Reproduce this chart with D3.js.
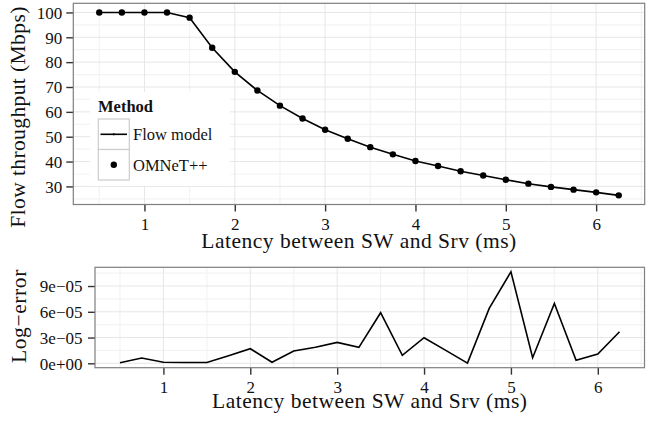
<!DOCTYPE html>
<html>
<head>
<meta charset="utf-8">
<script src="https://cdn.jsdelivr.net/npm/d3@7"></script>
<style>
  html, body { margin: 0; padding: 0; background: #fff; }
  svg { display: block; }
  svg text { font-family: "Liberation Serif", "DejaVu Serif", serif !important; fill: #111; }
</style>
</head>
<body>
<svg id="chart" width="654" height="421"></svg>
<script>
// ---- data ----
const latency = [0.5, 0.75, 1, 1.25, 1.5, 1.75, 2, 2.25, 2.5, 2.75, 3, 3.25,
                 3.5, 3.75, 4, 4.25, 4.5, 4.75, 5, 5.25, 5.5, 5.75, 6, 6.25];
const throughput = [100, 100, 100, 100, 97.9, 85.8, 76.1, 68.6, 62.5, 57.3, 52.8, 49.2,
                    45.8, 42.9, 40.2, 38.2, 36.1, 34.4, 32.7, 31.1, 29.8, 28.7, 27.6, 26.4];
const logError = [0.7e-6, 6.2e-6, 1.2e-6, 1.0e-6, 1.0e-6, 8.8e-6, 17e-6, 1.2e-6, 14.3e-6, 18.6e-6, 24.4e-6, 18.6e-6,
                  58.9e-6, 9.3e-6, 29.8e-6, 15e-6, 0.2e-6, 64e-6, 106.5e-6, 6.5e-6, 69.8e-6, 3.5e-6, 10.8e-6, 36.8e-6];
const xTicks = [1, 2, 3, 4, 5, 6];
const xMinorTicks = [0.5, 1.5, 2.5, 3.5, 4.5, 5.5, 6.5];
const topYTicks = [30, 40, 50, 60, 70, 80, 90, 100];
const topYMinorTicks = [25, 35, 45, 55, 65, 75, 85, 95];
const botYTicks = [0, 3e-5, 6e-5, 9e-5];
const botYTickLabels = ["0e+00", "3e\u221205", "6e\u221205", "9e\u221205"];
const botYMinorTicks = [1.5e-5, 4.5e-5, 7.5e-5, 10.5e-5];
const methods = ["Flow model", "OMNeT++"];
const legendTitle = "Method";
const xTitle = "Latency between SW and Srv (ms)";
const topYTitle = "Flow throughput (Mbps)";
const botYTitle = "Log\u2212error";

// ---- helpers ----
function expand(ext, f) { const d = (ext[1] - ext[0]) * f; return [ext[0] - d, ext[1] + d]; }

const svg = d3.select("#chart");
const FONT = '"Liberation Serif", "DejaVu Serif", serif';
const TICK_FONT = "17px", TITLE_FONT = "21.5px", LEG_FONT = "16.5px";

function panel(g, x, y, xMin, yMaj, yMin, yLabels, yLabelX, xLabelY) {
  const [x0, x1] = x.range();
  const [y1, y0] = y.range();
  g.append("rect").attr("x", x0).attr("y", y0).attr("width", x1 - x0).attr("height", y1 - y0)
    .attr("fill", "#fff");
  // minor grid
  g.selectAll(null).data(yMin).join("line")
    .attr("x1", x0).attr("x2", x1).attr("y1", d => y(d)).attr("y2", d => y(d))
    .attr("stroke", "#f3f3f3").attr("stroke-width", 1.2);
  g.selectAll(null).data(xMin).join("line")
    .attr("y1", y0).attr("y2", y1).attr("x1", d => x(d)).attr("x2", d => x(d))
    .attr("stroke", "#f3f3f3").attr("stroke-width", 1.2);
  // major grid
  g.selectAll(null).data(yMaj).join("line")
    .attr("x1", x0).attr("x2", x1).attr("y1", d => y(d)).attr("y2", d => y(d))
    .attr("stroke", "#e6e6e6").attr("stroke-width", 1);
  g.selectAll(null).data(xTicks).join("line")
    .attr("y1", y0).attr("y2", y1).attr("x1", d => x(d)).attr("x2", d => x(d))
    .attr("stroke", "#e6e6e6").attr("stroke-width", 1);

  // axes
  const ax = g.append("g").attr("transform", `translate(0,${y1})`)
    .call(d3.axisBottom(x).tickValues(xTicks).tickSize(7).tickFormat(d3.format("d")));
  ax.attr("font-family", FONT);
  ax.select(".domain").remove();
  ax.selectAll(".tick line").attr("stroke", "#333").attr("stroke-width", 1.4);
  ax.selectAll(".tick text").attr("y", xLabelY).attr("dy", null)
    .style("font-size", TICK_FONT).style("font-family", FONT).attr("fill", "#111");

  const ay = g.append("g").attr("transform", `translate(${x0},0)`)
    .call(d3.axisLeft(y).tickValues(yMaj).tickSize(7).tickFormat((d, i) => yLabels[i]));
  ay.attr("font-family", FONT);
  ay.select(".domain").remove();
  ay.selectAll(".tick line").attr("stroke", "#333").attr("stroke-width", 1.4);
  ay.selectAll(".tick text").attr("x", yLabelX).attr("dy", "0.34em")
    .style("font-size", TICK_FONT).style("font-family", FONT).attr("fill", "#111");
  return { x0, x1, y0, y1 };
}

// ---- top panel ----
const xTop = d3.scaleLinear().domain(expand(d3.extent(latency), 0.05)).range([73.3, 644.7]);
const yTop = d3.scaleLinear().domain(expand(d3.extent(throughput), 0.05)).range([204.5, 3.3]);
const gTop = svg.append("g");
const pTop = panel(gTop, xTop, yTop, xMinorTicks, topYTicks, topYMinorTicks,
                   topYTicks.map(String), -11, 25.2);

// legend background (covers grid)
const leg = svg.append("g");
leg.append("rect").attr("x", 90).attr("y", 92).attr("width", 140).attr("height", 94).attr("fill", "#fff");

gTop.append("path").datum(latency.map((d, i) => [d, throughput[i]]))
  .attr("fill", "none").attr("stroke", "#000").attr("stroke-width", 1.6)
  .attr("d", d3.line().x(d => xTop(d[0])).y(d => yTop(d[1])));
gTop.selectAll(null).data(latency.map((d, i) => [d, throughput[i]])).join("circle")
  .attr("cx", d => xTop(d[0])).attr("cy", d => yTop(d[1])).attr("r", 3.2).attr("fill", "#000");
gTop.append("rect").attr("x", pTop.x0).attr("y", pTop.y0)
  .attr("width", pTop.x1 - pTop.x0).attr("height", pTop.y1 - pTop.y0)
  .attr("fill", "none").attr("stroke", "#7f7f7f").attr("stroke-width", 1.2);

// legend content
leg.raise();
leg.append("text").attr("x", 98).attr("y", 111.5).style("font-size", LEG_FONT)
  .style("font-family", FONT).style("font-weight", "bold").text(legendTitle);
methods.forEach((m, i) => {
  const ky = 119 + i * 30.5;
  leg.append("rect").attr("x", 98.3).attr("y", ky).attr("width", 31).attr("height", 30.5)
    .attr("fill", "#fff").attr("stroke", "#cccccc").attr("stroke-width", 1.2);
  if (i === 0) {
    leg.append("line").attr("x1", 100.5).attr("x2", 127).attr("y1", ky + 15.3).attr("y2", ky + 15.3)
      .attr("stroke", "#000").attr("stroke-width", 1.6);
    leg.append("circle").attr("cx", 113.8).attr("cy", ky + 15.3).attr("r", 1.1).attr("fill", "#000");
  } else {
    leg.append("circle").attr("cx", 113.8).attr("cy", ky + 15.3).attr("r", 3.2).attr("fill", "#000");
  }
  leg.append("text").attr("x", 133).attr("y", ky + 21.2).style("font-size", LEG_FONT)
    .style("font-family", FONT).text(m);
});

// ---- bottom panel ----
const xBot = d3.scaleLinear().domain(expand(d3.extent(latency), 0.05)).range([95, 644.5]);
const yBot = d3.scaleLinear().domain(expand(d3.extent(logError), 0.05)).range([367.7, 267.3]);
const gBot = svg.append("g");
const pBot = panel(gBot, xBot, yBot, xMinorTicks, botYTicks, botYMinorTicks,
                   botYTickLabels, -12.5, 25.6);
gBot.append("path").datum(latency.map((d, i) => [d, logError[i]]))
  .attr("fill", "none").attr("stroke", "#000").attr("stroke-width", 1.6)
  .attr("d", d3.line().x(d => xBot(d[0])).y(d => yBot(d[1])));
gBot.append("rect").attr("x", pBot.x0).attr("y", pBot.y0)
  .attr("width", pBot.x1 - pBot.x0).attr("height", pBot.y1 - pBot.y0)
  .attr("fill", "none").attr("stroke", "#7f7f7f").attr("stroke-width", 1.2);

// ---- titles ----
function title(x, y, rot, t, ls) {
  svg.append("text").attr("transform", `translate(${x},${y}) rotate(${rot})`)
    .attr("text-anchor", "middle").style("font-size", TITLE_FONT)
    .style("font-family", FONT)
    .style("letter-spacing", ls).text(t);
}
title((pTop.x0 + pTop.x1) / 2, 248.3, 0, xTitle, "0.5px");
title((pBot.x0 + pBot.x1) / 2, 408.3, 0, xTitle, "0.5px");
title(25, 117, -90, topYTitle, "0.4px");
title(26, 316, -90, botYTitle, "0.6px");
</script>
</body>
</html>
